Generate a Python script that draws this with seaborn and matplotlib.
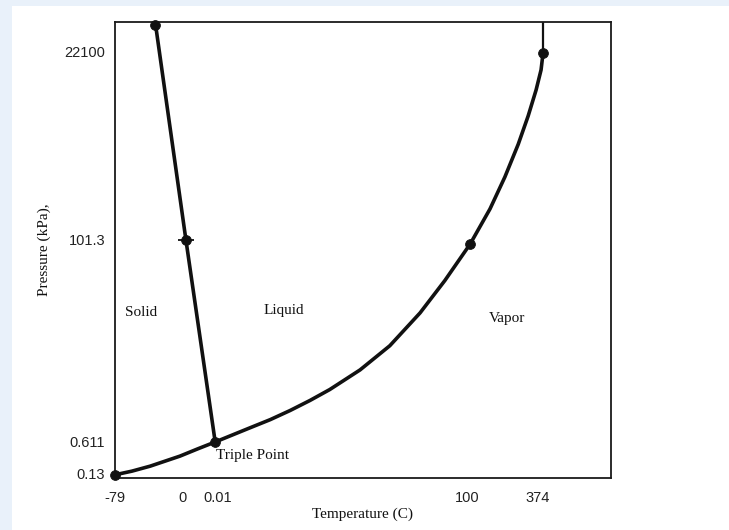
import matplotlib
matplotlib.use("Agg")
import matplotlib.pyplot as plt
from matplotlib.patches import Rectangle
import seaborn as sns

sns.set_theme(style="white")
plt.rcParams['font.family'] = ['Liberation Sans', 'DejaVu Sans']

# ---- data (schematic diagram units, 0-100 on both axes) ----
x_tick_pos = [0, 13.7, 20.8, 71.0, 85.3]
x_tick_labels = ["-79", "0", "0.01", "100", "374"]
y_tick_pos = [0.9, 7.9, 52.2, 93.6]
y_tick_labels = ["0.13", "0.611", "101.3", "22100"]

# sublimation curve (solid-vapor)
sub_x = [0.0, 3.4, 7.1, 13.1, 16.7, 20.2]
sub_y = [0.7, 1.5, 2.6, 4.8, 6.4, 7.9]
# vaporization curve (liquid-vapor) up to critical point
vap_x = [20.2, 27.2, 31.3, 35.3, 39.3, 43.3, 49.4, 55.4, 61.5, 66.5, 71.6, 75.6, 78.6, 81.3, 83.3, 84.9, 85.9, 86.3]
vap_y = [7.9, 11.0, 12.8, 14.8, 17.0, 19.4, 23.7, 29.0, 36.2, 43.3, 51.3, 59.0, 66.0, 73.2, 79.4, 85.1, 89.5, 93.2]
# supercritical vertical line
crit_x = [86.3, 86.3]
crit_y = [93.2, 100.0]
# melting curve (solid-liquid)
melt_x = [20.2, 14.3, 8.1]
melt_y = [7.9, 52.2, 100.0]
# marked points
pt_x = [0.0, 20.2, 14.3, 71.6, 86.3, 8.1]
pt_y = [0.7, 7.9, 52.2, 51.3, 93.2, 99.4]

region_names = ["Solid", "Liquid", "Vapor"]
region_x = [5.3, 34.0, 79.0]
region_y = [36.3, 36.7, 35.0]

W, H = 729, 530
fig = plt.figure(figsize=(W / 100, H / 100), dpi=100)
fig.patch.set_facecolor("#e9f1fa")
fig.patches.append(Rectangle((12 / W, 0), 1 - 12 / W, 1 - 6 / H,
                             transform=fig.transFigure, facecolor="white",
                             edgecolor="none", zorder=-10))

left, right, bottom, top = 115, 611, 478, 22
ax = fig.add_axes([left / W, 1 - bottom / H, (right - left) / W, (bottom - top) / H])
ax.set_facecolor("white")

lw = 2.6
col = "#111111"
sns.lineplot(x=sub_x, y=sub_y, ax=ax, color=col, lw=lw, sort=False, estimator=None)
sns.lineplot(x=vap_x, y=vap_y, ax=ax, color=col, lw=lw, sort=False, estimator=None)
sns.lineplot(x=crit_x, y=crit_y, ax=ax, color=col, lw=1.6, sort=False, estimator=None)
sns.lineplot(x=melt_x, y=melt_y, ax=ax, color=col, lw=lw, sort=False, estimator=None)
for line in ax.lines:
    line.set_solid_joinstyle("round")
    line.set_solid_capstyle("round")
sns.scatterplot(x=pt_x, y=pt_y, ax=ax, color=col, s=50, edgecolor=col, zorder=5, clip_on=False)
# small horizontal tick through the 101.3 kPa melting point
ax.plot([pt_x[2]], [pt_y[2]], marker="_", markersize=12, mew=1.3, color=col, zorder=5)

ax.set_xlim(0, 100)
ax.set_ylim(0, 100)
ax.set_xticks(x_tick_pos)
ax.set_xticklabels(x_tick_labels)
ax.set_yticks(y_tick_pos)
ax.set_yticklabels(y_tick_labels)
ax.tick_params(axis="both", length=0, labelsize=10.5, colors="#222222")
ax.tick_params(axis="x", pad=9)
ax.tick_params(axis="y", pad=7)

for s in ax.spines.values():
    s.set_visible(True)
    s.set_color("#1a1a1a")
    s.set_linewidth(1.3)

serif = ['Liberation Serif', 'DejaVu Serif']
for name, x, y in zip(region_names, region_x, region_y):
    ax.text(x, y, name, ha="center", va="center", fontsize=11, family=serif, color="#111111")
ax.text(20.3, 5.0, "Triple Point", ha="left", va="center", fontsize=11, family=serif, color="#111111")

ax.set_xlabel("Temperature (C)", fontsize=11, family=serif, color="#111111", labelpad=2)
ax.set_ylabel("Pressure (kPa),", fontsize=11, family=serif, color="#111111", labelpad=10)

fig.savefig("out.png", dpi=100)
